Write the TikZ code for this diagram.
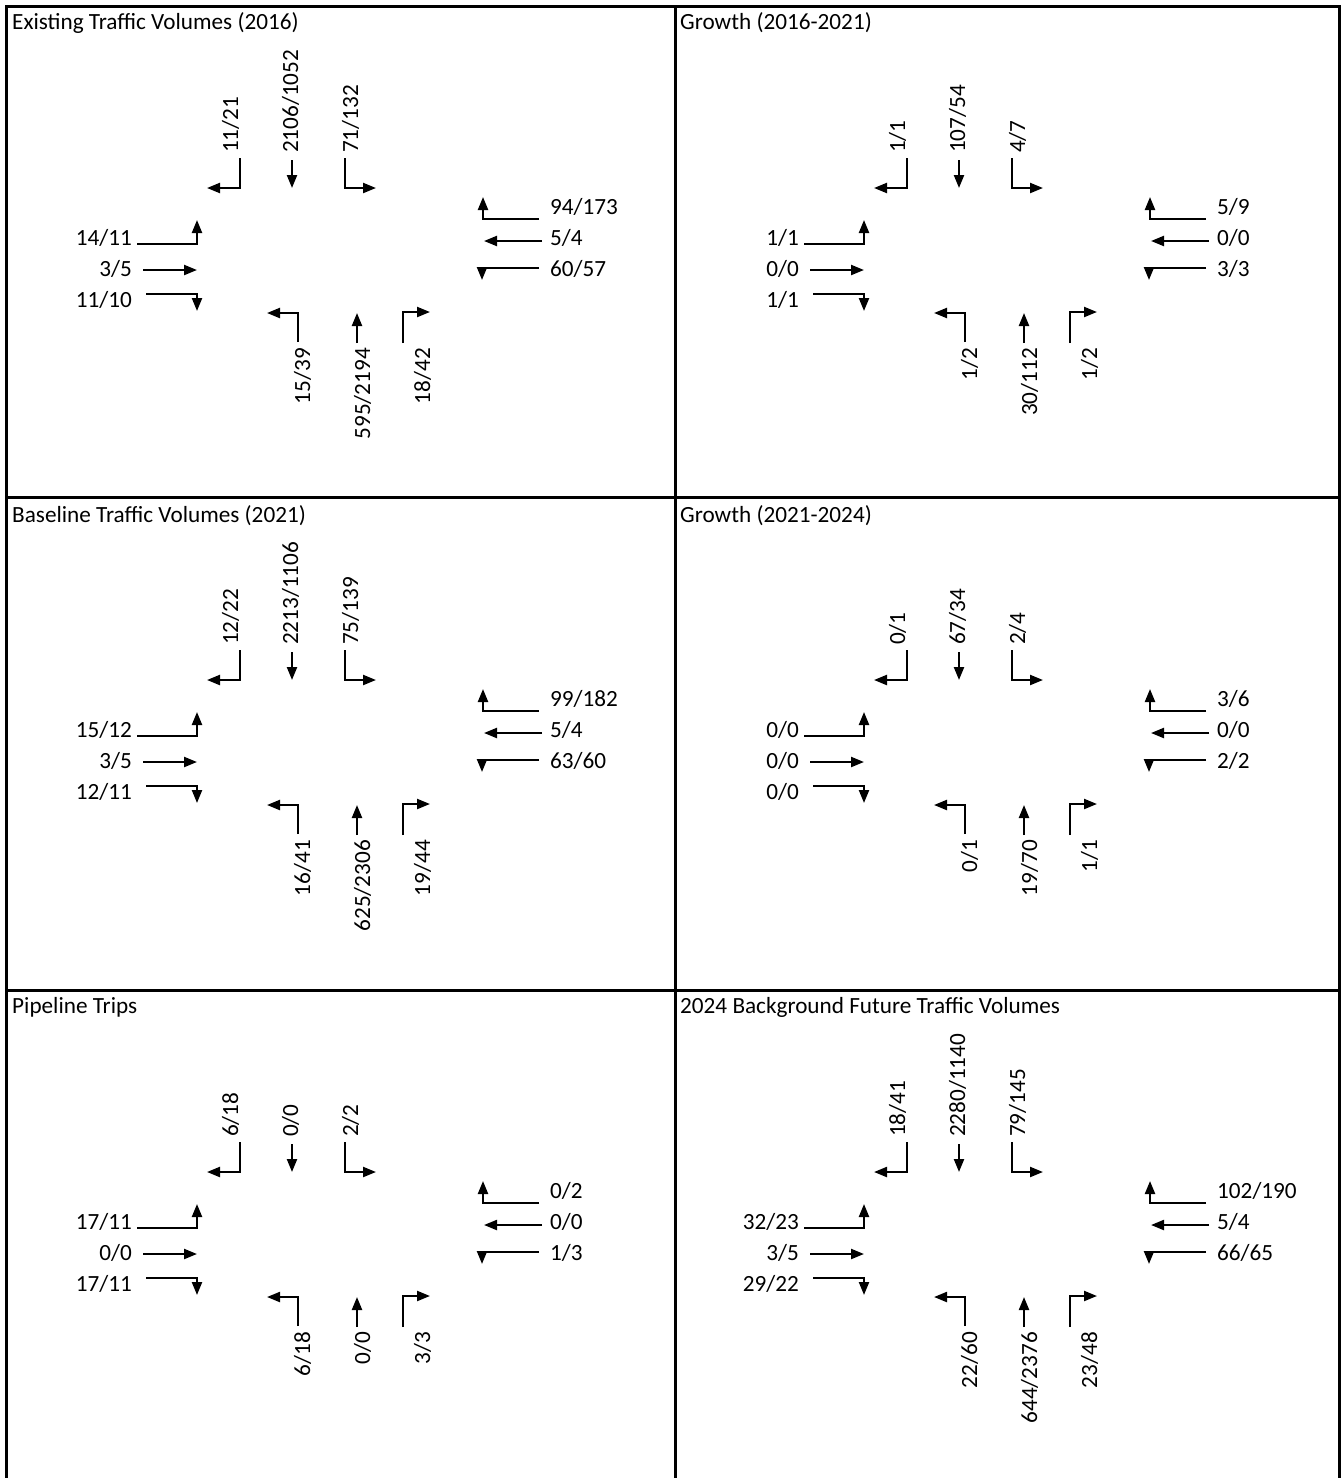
\documentclass[tikz,border=0pt]{standalone}
\usepackage{fontspec}
\setmainfont{Carlito}
\usetikzlibrary{arrows.meta}

\tikzset{
  frame/.style={line width=3pt, line cap=square},
  move/.style={line width=2.2pt, -{Triangle[length=13pt,width=10pt]}},
  vol/.style={inner sep=0pt, font=\fontsize{23.2}{27}\selectfont},
  volup/.style={vol, rotate=90},
  heading/.style={inner sep=0pt, anchor=base west, font=\fontsize{23.2}{27}\selectfont},
}

% one intersection: turning movements of the four approaches
% \pfx holds the name prefix of the current intersection
\newcommand\northlegs[3]{%
  \node[volup, anchor=base west] (\pfx-nl) at (238,153) {#1};
  \node[volup, anchor=base west] (\pfx-nt) at (298,153) {#2};
  \node[volup, anchor=base west] (\pfx-nr) at (358,153) {#3};
  \draw[move] (240,158) |- (207,188);
  \draw[move] (292,160) -- (292,188);
  \draw[move] (345,158) |- (376,188);
}
\newcommand\westlegs[3]{%
  \node[vol, anchor=base east] (\pfx-wl) at (132,245) {#1};
  \node[vol, anchor=base east] (\pfx-wt) at (132,276) {#2};
  \node[vol, anchor=base east] (\pfx-wr) at (132,307) {#3};
  \draw[move] (137,244) -| (197,220);
  \draw[move] (143,270) -- (197,270);
  \draw[move] (146,294) -| (197,311);
}
\newcommand\eastlegs[3]{%
  \node[vol, anchor=base west] (\pfx-er) at (550,214) {#1};
  \node[vol, anchor=base west] (\pfx-et) at (550,245) {#2};
  \node[vol, anchor=base west] (\pfx-el) at (550,276) {#3};
  \draw[move] (539,219) -| (483,197);
  \draw[move] (542,241) -- (484,241);
  \draw[move] (539,268) -| (482,280);
}
\newcommand\southlegs[3]{%
  \node[volup, anchor=base east] (\pfx-sl) at (310,348) {#1};
  \node[volup, anchor=base east] (\pfx-st) at (370,348) {#2};
  \node[volup, anchor=base east] (\pfx-sr) at (430,348) {#3};
  \draw[move] (298,342) |- (267,313);
  \draw[move] (357,343) -- (357,313);
  \draw[move] (403,343) |- (430,312);
}

\begin{document}
\begin{tikzpicture}[x=1pt, y=-1pt]
  \useasboundingbox (0,0) rectangle (1341,1478);

  % panel grid
  \draw[frame] (6,1478) -- (6,6) -- (1339,6) -- (1339,1478);
  \draw[frame] (675,6) -- (675,1478);
  \draw[frame] (6,497) -- (1339,497);
  \draw[frame] (6,990) -- (1339,990);

  % headings
  \node[heading] (t1) at (12,29)   {Existing Traffic Volumes (2016)};
  \node[heading] (t2) at (680,29)  {Growth (2016-2021)};
  \node[heading] (t3) at (12,522)  {Baseline Traffic Volumes (2021)};
  \node[heading] (t4) at (680,522) {Growth (2021-2024)};
  \node[heading] (t5) at (12,1013) {Pipeline Trips};
  \node[heading] (t6) at (680,1013){2024 Background Future Traffic Volumes};

  % existing 2016
  \begin{scope}
    \def\pfx{a}
    \northlegs{11/21}{2106/1052}{71/132}
    \westlegs{14/11}{3/5}{11/10}
    \eastlegs{94/173}{5/4}{60/57}
    \southlegs{15/39}{595/2194}{18/42}
  \end{scope}

  % growth 2016-2021
  \begin{scope}[shift={(667,0)}]
    \def\pfx{b}
    \northlegs{1/1}{107/54}{4/7}
    \westlegs{1/1}{0/0}{1/1}
    \eastlegs{5/9}{0/0}{3/3}
    \southlegs{1/2}{30/112}{1/2}
  \end{scope}

  % baseline 2021
  \begin{scope}[shift={(0,492)}]
    \def\pfx{c}
    \northlegs{12/22}{2213/1106}{75/139}
    \westlegs{15/12}{3/5}{12/11}
    \eastlegs{99/182}{5/4}{63/60}
    \southlegs{16/41}{625/2306}{19/44}
  \end{scope}

  % growth 2021-2024
  \begin{scope}[shift={(667,492)}]
    \def\pfx{d}
    \northlegs{0/1}{67/34}{2/4}
    \westlegs{0/0}{0/0}{0/0}
    \eastlegs{3/6}{0/0}{2/2}
    \southlegs{0/1}{19/70}{1/1}
  \end{scope}

  % pipeline trips
  \begin{scope}[shift={(0,984)}]
    \def\pfx{e}
    \northlegs{6/18}{0/0}{2/2}
    \westlegs{17/11}{0/0}{17/11}
    \eastlegs{0/2}{0/0}{1/3}
    \southlegs{6/18}{0/0}{3/3}
  \end{scope}

  % background future 2024
  \begin{scope}[shift={(667,984)}]
    \def\pfx{f}
    \northlegs{18/41}{2280/1140}{79/145}
    \westlegs{32/23}{3/5}{29/22}
    \eastlegs{102/190}{5/4}{66/65}
    \southlegs{22/60}{644/2376}{23/48}
  \end{scope}
\end{tikzpicture}
\end{document}
